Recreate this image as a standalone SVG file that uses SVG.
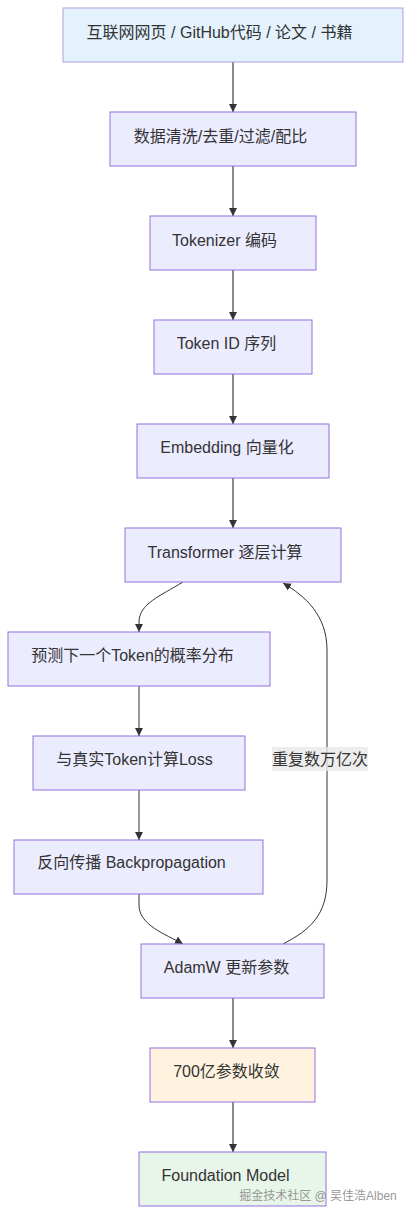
<svg xmlns="http://www.w3.org/2000/svg" width="411" height="1215" viewBox="0 0 411 1215">
<style>
  .node rect { fill: #ececff; stroke: #9370db; stroke-width: 1; }
  .node text { font-family: "Liberation Sans", "Noto Sans CJK SC", sans-serif; font-size: 16px; fill: #333; text-anchor: middle; }
  .edge { fill: none; }
  .main { stroke: #8c8c8c; stroke-width: 2; }
  .loop { stroke: #333; stroke-width: 1; }
  .lbl { font-family: "Liberation Sans", "Noto Sans CJK SC", sans-serif; font-size: 16px; fill: #333; text-anchor: middle; }
</style>
<defs>
  <marker id="arrow" viewBox="0 0 10 10" refX="10" refY="5" markerWidth="8" markerHeight="8" markerUnits="userSpaceOnUse" orient="auto">
    <path d="M0,0 L10,5 L0,10 z" fill="#333"/>
  </marker>
</defs>
<rect width="411" height="1215" fill="#ffffff"/>
<g id="connectors">
  <path class="edge main" d="M233,62 L233,112" marker-end="url(#arrow)"/>
  <path class="edge main" d="M233,166 L233,216" marker-end="url(#arrow)"/>
  <path class="edge main" d="M233,270 L233,320" marker-end="url(#arrow)"/>
  <path class="edge main" d="M233,374 L233,424" marker-end="url(#arrow)"/>
  <path class="edge main" d="M233,478 L233,528" marker-end="url(#arrow)"/>
  <path class="edge loop" d="M183,582 C160,596 139,604 139,622 L139,632" marker-end="url(#arrow)"/>
  <path class="edge loop" d="M139,686 L139,736" marker-end="url(#arrow)"/>
  <path class="edge loop" d="M139,790 L139,840" marker-end="url(#arrow)"/>
  <path class="edge loop" d="M139,894 L139,905 C139,925 165,934 183,944" marker-end="url(#arrow)"/>
  <path class="edge loop" d="M283,944 C310,930 327,915 327,880 L327,650 C327,615 305,596 283,583" marker-end="url(#arrow)"/>
  <path class="edge main" d="M233,998 L233,1048" marker-end="url(#arrow)"/>
  <path class="edge main" d="M233,1102 L233,1152" marker-end="url(#arrow)"/>
  <g id="loop-label">
    <rect x="272" y="747" width="96" height="24" fill="#e8e8e8" fill-opacity="0.8"/>
    <text class="lbl" x="320" y="765">重复数万亿次</text>
  </g>
</g>
<g id="n1" class="node">
  <rect x="63" y="8" width="340" height="54" style="fill:#e3f2fd;stroke:#b39ddb"/>
  <text x="219.5" y="38">互联网网页 / GitHub代码 / 论文 / 书籍</text>
</g>
<g id="n2" class="node">
  <rect x="110" y="112" width="246" height="54"/>
  <text x="220.5" y="142">数据清洗/去重/过滤/配比</text>
</g>
<g id="n3" class="node">
  <rect x="150" y="216" width="166" height="54"/>
  <text x="224.5" y="246">Tokenizer 编码</text>
</g>
<g id="n4" class="node">
  <rect x="154" y="320" width="158" height="54"/>
  <text x="226.5" y="349">Token ID 序列</text>
</g>
<g id="n5" class="node">
  <rect x="137" y="424" width="192" height="54"/>
  <text x="227" y="453">Embedding 向量化</text>
</g>
<g id="n6" class="node">
  <rect x="125" y="528" width="216" height="54"/>
  <text x="225" y="558">Transformer 逐层计算</text>
</g>
<g id="n7" class="node">
  <rect x="8" y="632" width="262" height="54"/>
  <text x="132.5" y="661">预测下一个Token的概率分布</text>
</g>
<g id="n8" class="node">
  <rect x="33" y="736" width="212" height="54"/>
  <text x="134.5" y="765">与真实Token计算Loss</text>
</g>
<g id="n9" class="node">
  <rect x="14" y="840" width="249" height="54"/>
  <text x="131.5" y="868">反向传播 Backpropagation</text>
</g>
<g id="n10" class="node">
  <rect x="141" y="944" width="183" height="54"/>
  <text x="226.5" y="973">AdamW 更新参数</text>
</g>
<g id="n11" class="node">
  <rect x="150" y="1048" width="165" height="54" style="fill:#fff3e0"/>
  <text x="226.5" y="1077">700亿参数收敛</text>
</g>
<g id="n12" class="node">
  <rect x="139" y="1152" width="187" height="54" style="fill:#e8f5e9"/>
  <text x="225.5" y="1181">Foundation Model</text>
</g>
<text x="318" y="1200" text-anchor="middle" font-family="Liberation Sans, Noto Sans CJK SC, sans-serif" font-size="12" fill="#8a8a8a" fill-opacity="0.9">掘金技术社区 @ 吴佳浩Alben</text>
</svg>
